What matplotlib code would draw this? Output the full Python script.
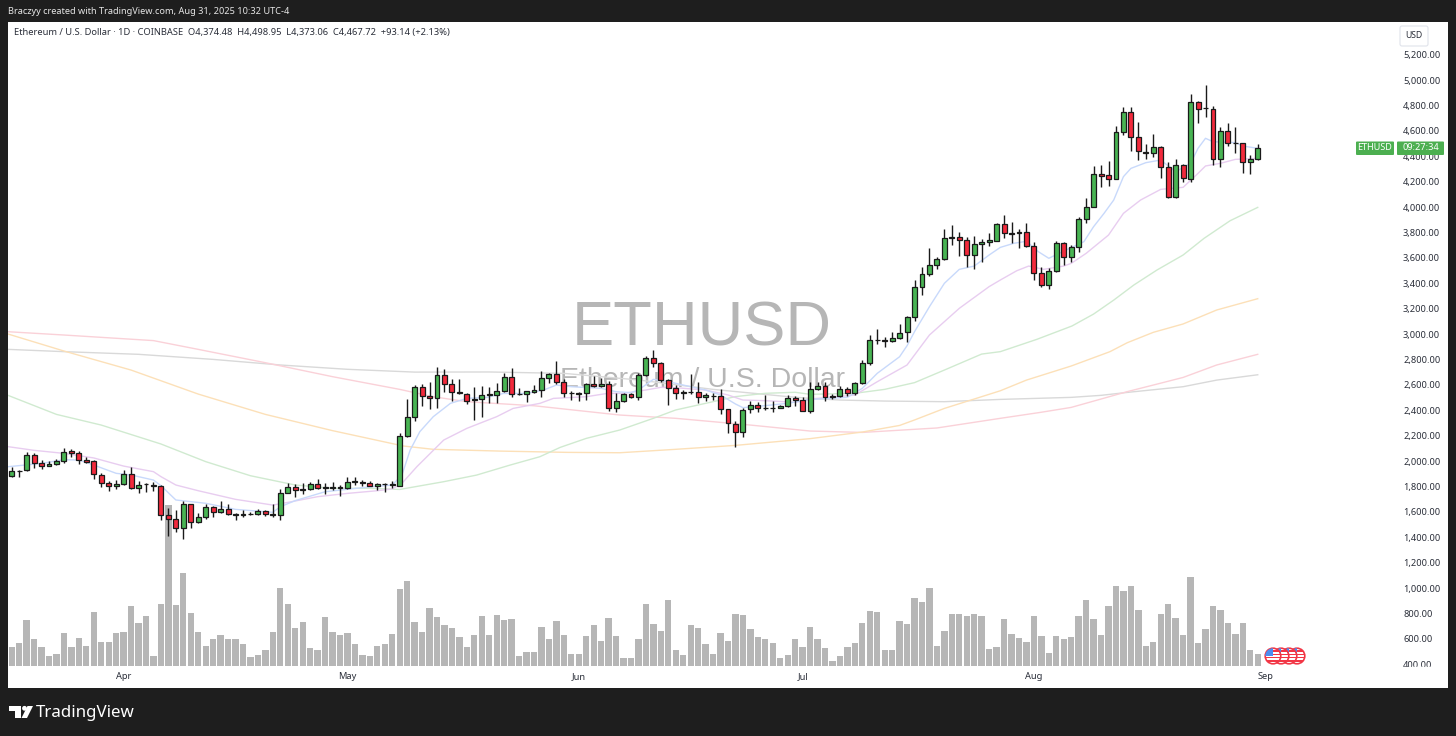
import numpy as np
import matplotlib
matplotlib.use("Agg")
import matplotlib.pyplot as plt
from matplotlib.patches import Rectangle, Circle, Polygon, FancyBboxPatch
from matplotlib.transforms import IdentityTransform

W, H = 1456, 736
plt.rcParams['font.family'] = ['Noto Sans', 'DejaVu Sans']

# daily candles, 17 Mar 2025 to 31 Aug 2025
opens = [1879, 1921, 1926, 2047, 1981, 1960, 1973, 1997, 2076, 2060, 2005, 1997, 1892, 1824, 1800, 1816, 1897, 1784, 1816, 1813,
         1800, 1572, 1546, 1469, 1658, 1517, 1561, 1635, 1595, 1619, 1580, 1572, 1580, 1580, 1603, 1582, 1572, 1750, 1792, 1769,
         1779, 1816, 1792, 1790, 1795, 1784, 1834, 1837, 1829, 1805, 1819, 1811, 1805, 2199, 2344, 2580, 2512, 2494, 2675, 2604,
         2543, 2530, 2478, 2491, 2523, 2517, 2549, 2659, 2525, 2525, 2543, 2562, 2656, 2683, 2625, 2533, 2525, 2538, 2604, 2593,
         2604, 2415, 2473, 2525, 2507, 2675, 2811, 2769, 2635, 2572, 2533, 2544, 2541, 2507, 2515, 2515, 2407, 2291, 2226, 2407,
         2441, 2420, 2415, 2417, 2431, 2499, 2477, 2396, 2569, 2588, 2509, 2509, 2564, 2533, 2611, 2769, 2950, 2955, 2942, 2966,
         3013, 3136, 3367, 3472, 3540, 3593, 3758, 3761, 3743, 3625, 3706, 3722, 3735, 3866, 3795, 3792, 3806, 3690, 3478, 3383,
         3493, 3716, 3603, 3682, 3903, 4003, 4260, 4249, 4223, 4588, 4745, 4548, 4436, 4423, 4472, 4312, 4076, 4328, 4223, 4829,
         4782, 4772, 4375, 4596, 4507, 4504, 4354, 4374.48]
highs = [1950, 1929, 2068, 2060, 2008, 1997, 2018, 2099, 2091, 2078, 2029, 2005, 1902, 1842, 1850, 1926, 1952, 1840, 1829, 1832,
         1808, 1632, 1614, 1685, 1664, 1588, 1661, 1645, 1687, 1658, 1593, 1611, 1595, 1624, 1614, 1658, 1777, 1829, 1819, 1824,
         1837, 1858, 1824, 1834, 1813, 1871, 1871, 1850, 1845, 1829, 1824, 1842, 2217, 2488, 2598, 2606, 2620, 2738, 2722, 2643,
         2643, 2533, 2586, 2591, 2586, 2612, 2690, 2730, 2572, 2551, 2599, 2711, 2696, 2788, 2643, 2551, 2546, 2612, 2669, 2651,
         2633, 2533, 2533, 2533, 2690, 2827, 2874, 2782, 2643, 2599, 2559, 2683, 2620, 2533, 2538, 2565, 2412, 2315, 2415, 2473,
         2467, 2520, 2473, 2441, 2520, 2512, 2506, 2619, 2624, 2624, 2525, 2590, 2585, 2622, 2792, 2992, 3036, 2979, 3018, 3078,
         3144, 3425, 3525, 3674, 3609, 3824, 3858, 3800, 3761, 3774, 3748, 3792, 3877, 3937, 3879, 3827, 3871, 3722, 3530, 3522,
         3735, 3722, 3701, 3924, 4068, 4323, 4331, 4362, 4638, 4785, 4785, 4667, 4493, 4575, 4480, 4357, 4375, 4339, 4887, 4835,
         4958, 4795, 4627, 4659, 4630, 4507, 4409, 4498.95]
lows = [1876, 1871, 1924, 1947, 1934, 1960, 1971, 1981, 2034, 1979, 1987, 1860, 1798, 1766, 1777, 1811, 1779, 1745, 1758, 1766,
        1535, 1409, 1443, 1385, 1469, 1509, 1540, 1561, 1593, 1574, 1535, 1556, 1572, 1574, 1564, 1559, 1535, 1745, 1719, 1740,
        1771, 1779, 1740, 1771, 1727, 1782, 1808, 1805, 1803, 1774, 1753, 1784, 1803, 2186, 2315, 2433, 2410, 2415, 2546, 2473,
        2528, 2446, 2323, 2349, 2454, 2454, 2541, 2501, 2520, 2467, 2533, 2507, 2612, 2606, 2507, 2478, 2470, 2480, 2585, 2585,
        2391, 2389, 2462, 2494, 2480, 2669, 2743, 2625, 2441, 2488, 2491, 2528, 2454, 2475, 2480, 2370, 2218, 2113, 2192, 2381,
        2389, 2402, 2383, 2415, 2425, 2436, 2391, 2375, 2559, 2475, 2491, 2501, 2512, 2519, 2603, 2756, 2918, 2900, 2939, 2960,
        2934, 3105, 3307, 3456, 3509, 3583, 3701, 3617, 3530, 3509, 3569, 3693, 3730, 3753, 3714, 3680, 3682, 3425, 3367, 3351,
        3488, 3543, 3564, 3648, 3877, 4000, 4160, 4165, 4220, 4567, 4444, 4370, 4378, 4396, 4226, 4071, 4068, 4199, 4199, 4659,
        4711, 4331, 4315, 4483, 4428, 4270, 4257, 4373.06]
closes = [1924, 1924, 2047, 1981, 1960, 1973, 1997, 2073, 2060, 2005, 1994, 1895, 1824, 1800, 1816, 1897, 1784, 1808, 1821, 1800,
          1572, 1546, 1469, 1658, 1517, 1561, 1635, 1595, 1619, 1580, 1574, 1580, 1585, 1603, 1580, 1574, 1748, 1792, 1769, 1779,
          1816, 1784, 1784, 1795, 1790, 1837, 1840, 1829, 1805, 1819, 1816, 1819, 2199, 2344, 2580, 2512, 2494, 2675, 2606, 2543,
          2533, 2475, 2491, 2523, 2528, 2549, 2659, 2525, 2528, 2549, 2562, 2656, 2683, 2625, 2533, 2538, 2538, 2604, 2593, 2604,
          2415, 2473, 2525, 2507, 2675, 2811, 2769, 2638, 2575, 2533, 2546, 2541, 2507, 2517, 2512, 2407, 2297, 2226, 2404, 2438,
          2417, 2417, 2420, 2431, 2499, 2480, 2396, 2564, 2588, 2506, 2504, 2567, 2538, 2611, 2769, 2950, 2955, 2942, 2966, 3010,
          3136, 3367, 3472, 3540, 3593, 3753, 3761, 3743, 3625, 3706, 3724, 3737, 3869, 3798, 3790, 3806, 3693, 3480, 3383, 3493,
          3716, 3603, 3682, 3903, 4003, 4260, 4247, 4223, 4588, 4745, 4548, 4438, 4423, 4472, 4312, 4076, 4328, 4226, 4829, 4772,
          4777, 4375, 4598, 4507, 4501, 4354, 4375, 4467.72]
volumes = [56, 70, 137, 82, 58, 30, 35, 99, 56, 84, 60, 161, 72, 71, 99, 101, 180, 129, 151, 30,
           187, 483, 183, 278, 159, 101, 60, 80, 92, 80, 82, 66, 27, 34, 47, 101, 233, 187, 113, 132,
           54, 48, 147, 101, 93, 99, 66, 33, 30, 60, 66, 96, 230, 256, 132, 101, 173, 147, 123, 113,
           87, 56, 93, 151, 92, 153, 137, 141, 30, 42, 42, 116, 82, 135, 92, 37, 37, 90, 123, 75,
           144, 90, 25, 25, 80, 187, 126, 106, 197, 49, 34, 123, 113, 66, 37, 99, 75, 156, 153, 111,
           87, 80, 68, 23, 34, 80, 56, 116, 80, 54, 15, 30, 56, 70, 130, 165, 161, 47, 49, 135,
           126, 204, 192, 233, 59, 104, 156, 156, 149, 156, 151, 51, 56, 140, 96, 84, 72, 149, 90, 39,
           90, 80, 87, 151, 199, 140, 94, 180, 240, 225, 240, 168, 59, 72, 156, 187, 144, 94, 266, 68,
           111, 180, 168, 128, 96, 130, 47, 37]

# moving average overlays at a few candles
blue_x = [0.5, 5, 8, 10, 12, 15, 17, 20, 21, 23, 27, 31, 36, 37, 39, 43, 48, 52, 53.3, 54.4, 55.7, 57.5, 59.8, 62, 64.7, 66.9, 70, 72.3, 74,
          76, 80, 82, 84, 85, 87, 89, 91, 94, 96, 98, 99, 102, 105, 108, 113, 115, 117, 120, 121, 122, 124, 126, 128, 130, 132,
          133.5, 135.3, 137, 138.6, 140, 140.9, 143, 144.7, 146, 147.4, 148.7, 150, 151, 153, 155, 157, 159, 160, 161, 162, 165, 166, 168]
blue_y = [1955, 1981, 2010, 2008, 1968, 1903, 1890, 1850, 1806, 1693, 1667, 1619, 1596, 1640, 1688, 1758, 1790, 1811, 1889, 2086, 2231,
          2349, 2454, 2493, 2501, 2532, 2532, 2559, 2598, 2585, 2572, 2546, 2538, 2559, 2643, 2625, 2598, 2559, 2520,
          2449, 2420, 2436, 2454, 2485, 2501, 2572, 2690, 2821, 2908, 3018, 3215, 3399, 3509, 3535, 3622,
          3682, 3714, 3730, 3648, 3596, 3622, 3680, 3727, 3845, 3950, 4055, 4239, 4304, 4349, 4370, 4278, 4344, 4462, 4541, 4514, 4507, 4480, 4462]
purple_x = [0.5, 4, 8, 12, 16, 20, 21, 23, 26, 31, 36, 38, 42, 46, 50, 52, 53.3, 55.3, 57.1, 58.9, 62, 66, 68.2, 71.8, 73.6, 78, 80.8, 83, 86, 88, 90,
            94, 97, 99, 102, 106, 108, 114, 117, 121, 124, 128, 132, 133.5, 135.7, 137.3, 139.3, 142, 143, 145, 148, 150, 152.3, 155, 158, 160, 161, 163, 165, 168]
purple_y = [2113, 2084, 2060, 2024, 1960, 1916, 1877, 1811, 1766, 1698, 1653, 1674, 1719, 1745, 1766, 1780, 1824, 1955, 2060, 2165, 2257, 2349, 2414, 2454, 2493, 2506, 2532, 2533, 2559, 2580, 2577,
            2559, 2520, 2480, 2475, 2462, 2488, 2519, 2624, 2756, 2992, 3202, 3373, 3425, 3498, 3535, 3509, 3535, 3556, 3635, 3779, 3950, 4055, 4139, 4155, 4265, 4323, 4344, 4375, 4383]
green_x = [0.5, 7, 13, 21, 27, 33, 39, 44, 49, 53, 58.9, 63.3, 67.8, 71.8, 74.5, 78, 82.5, 87, 90, 94, 98, 102, 106, 108, 114, 118, 122, 126, 131,
           133.5, 138.4, 143.1, 146, 148.7, 151.4, 154.5, 158, 160.8, 164.3, 168]
green_y = [2517, 2367, 2283, 2134, 1995, 1884, 1811, 1785, 1785, 1776, 1837, 1889, 1968, 2034, 2107, 2178, 2244, 2336, 2402, 2454, 2507,
           2533, 2541, 2525, 2533, 2564, 2617, 2716, 2842, 2861, 2958, 3063, 3157, 3267, 3386, 3504, 3622, 3753, 3892, 3997]
orange_x = [0.5, 8, 17, 26, 35, 44, 53.5, 57.5, 66.5, 75.4, 82.5, 90, 98, 108, 115, 120, 122, 126, 130, 133.5, 137, 143, 148.2, 150.5, 154, 158, 162.5, 168]
orange_y = [3000, 2866, 2716, 2527, 2367, 2239, 2118, 2092, 2078, 2068, 2065, 2092, 2123, 2176, 2228, 2280, 2323, 2414, 2488, 2553,
            2637, 2748, 2861, 2931, 3013, 3079, 3189, 3278]
pink_x = [0.5, 8, 20, 26, 35, 44, 53, 57.5, 62, 71, 82.5, 90, 100, 108, 115, 125, 133.5, 138.9, 143, 147, 150.5, 154, 158, 162.5, 168]
pink_y = [3018, 2992, 2948, 2879, 2774, 2664, 2564, 2506, 2467, 2435, 2362, 2336, 2283, 2236, 2225, 2260, 2336, 2383, 2422, 2488,
          2546, 2598, 2658, 2756, 2840]
gray_x = [0.5, 8, 18, 28, 37, 46, 55, 65, 75, 85, 95, 105, 108, 112, 118, 126, 133.5, 143, 147, 150.5, 158, 162.5, 168]
gray_y = [2879, 2861, 2840, 2800, 2756, 2722, 2700, 2701, 2690, 2638, 2564, 2507, 2493, 2480, 2472, 2467, 2485, 2501, 2517, 2540, 2585, 2637, 2679]

price_ticks = list(range(400, 5400, 200))
month_pos = [16, 46, 77, 107, 138, 169]
month_labels = ["Apr", "May", "Jun", "Jul", "Aug", "Sep"]


def px(x, y):
    return x / W, 1 - y / H


x = np.arange(1, len(closes) + 1)
o = np.array(opens)
c = np.array(closes)

fig = plt.figure(figsize=(W / 100, H / 100), dpi=100, facecolor="#1e1e1e")
box = [8 / W, (H - 688) / H, 1440 / W, 666 / H]
xlim = (0.504, 193.5)

# volume sits in its own axes under the price axes
axv = fig.add_axes(box, zorder=0, facecolor="white")
axv.bar(x, volumes, width=0.85, color="#b6b6b6", edgecolor="none")
axv.set_xlim(*xlim)
axv.set_ylim(-66, 1932)
axv.axis("off")
axv.add_patch(Rectangle((0, 0), 1, 1, transform=axv.transAxes, color="white", zorder=-5))

ax = fig.add_axes(box, zorder=2)
ax.patch.set_visible(False)
ax.set_xlim(*xlim)
ax.set_ylim(212.6, 5456.7)
for s in ax.spines.values():
    s.set_visible(False)

# watermark goes between the two axes
fig.text(*px(702, 329), "ETHUSD", fontsize=45.5, color="#b6b6b6", ha="center", va="center",
         family="Liberation Sans", zorder=1)
fig.text(*px(702, 380), "Ethereum / U.S. Dollar", fontsize=20.5, color="#b6b6b6", ha="center", va="center",
         family="Liberation Sans", zorder=1)

ax.plot(gray_x, gray_y, color="#d9d9d9", lw=1, zorder=1)
ax.plot(pink_x, pink_y, color="#fad1d8", lw=1, zorder=1)
ax.plot(orange_x, orange_y, color="#fce0b8", lw=1, zorder=1)
ax.plot(green_x, green_y, color="#d0ead0", lw=1, zorder=1)
ax.plot(purple_x, purple_y, color="#e8cdf0", lw=1, zorder=1)
ax.plot(blue_x, blue_y, color="#c8d9fb", lw=1, zorder=1)

colors = ["#48b453" if b >= a else "#f22a3c" for a, b in zip(opens, closes)]
ax.vlines(x, lows, highs, color="#1a1a1a", lw=1, zorder=2)
ax.bar(x, np.abs(c - o), bottom=np.minimum(o, c), width=0.66, color=colors,
       edgecolor="#1a1a1a", linewidth=0.9, zorder=3)

ax.yaxis.tick_right()
ax.set_yticks(price_ticks)
ax.set_yticklabels([f"{p:,.2f}" for p in price_ticks], fontsize=6.7, color="#2a2e39")
ax.tick_params(axis="y", length=0, pad=-32.4)
ax.set_xticks(month_pos)
ax.set_xticklabels(month_labels, fontsize=6.7, color="#2a2e39")
ax.tick_params(axis="x", length=0, pad=-11.5)

# header and footer text
fig.text(*px(8, 11), "Braczyy created with TradingView.com, Aug 31, 2025 10:32 UTC-4",
         color="#e6e6e6", fontsize=6.6, va="center")
fig.text(*px(14, 33), "Ethereum / U.S. Dollar · 1D · COINBASE  O4,374.48  H4,498.95  L4,373.06  C4,467.72  +93.14 (+2.13%)",
         color="#2a2e39", fontsize=6.72, va="center")
fig.text(*px(36, 713), "TradingView", color="white", fontsize=12.2, va="center", weight="medium")

# price axis decorations
fig.add_artist(Rectangle(px(1390, 672), 55 / W, 5 / H, transform=fig.transFigure, color="white", zorder=5))
fig.add_artist(FancyBboxPatch((1400, H - 46), 28, 20, boxstyle="round,pad=0,rounding_size=2",
                              transform=IdentityTransform(), fc="white", ec="#e0e3eb", lw=0.8, zorder=5))
fig.text(*px(1414, 35), "USD", color="#2a2e39", fontsize=6.2, ha="center", va="center", zorder=6)
fig.add_artist(FancyBboxPatch((1356, H - 155), 38, 13.5, boxstyle="round,pad=0,rounding_size=1",
                              transform=IdentityTransform(), fc="#4caf50", ec="none", zorder=5))
fig.add_artist(FancyBboxPatch((1397, H - 155), 47, 13.5, boxstyle="round,pad=0,rounding_size=1",
                              transform=IdentityTransform(), fc="#4caf50", ec="none", zorder=5))
fig.text(*px(1375, 148), "ETHUSD", color="white", fontsize=6.5, ha="center", va="center", weight="semibold", zorder=6)
fig.text(*px(1420.5, 148), "09:27:34", color="white", fontsize=6.6, ha="center", va="center", zorder=6)

# logo
logo = "#ffffff"
fig.add_artist(Polygon([(9, H - 706), (21, H - 706), (21, H - 718), (15, H - 718), (15, H - 711), (9, H - 711)],
                       transform=IdentityTransform(), fc=logo, ec="none"))
fig.add_artist(Circle((24.5, H - 708.3), 2.4, transform=IdentityTransform(), fc=logo, ec="none"))
fig.add_artist(Polygon([(27.5, H - 706), (33, H - 706), (27, H - 718), (21.5, H - 718)],
                       transform=IdentityTransform(), fc=logo, ec="none"))

# economic event flags
for i, cx in enumerate([1297, 1289, 1281, 1273]):
    z = 5 + i
    disc = Circle((cx, H - 656), 7.8, transform=IdentityTransform(), fc="white", ec="#f23645", lw=1.2, zorder=z)
    fig.add_artist(disc)
    for k, dy in enumerate([-5, -1.7, 1.7, 5]):
        st = Rectangle((cx - 8, H - 656 + dy - 0.7), 16, 1.4, transform=IdentityTransform(),
                       fc="#f23645", ec="none", zorder=z)
        fig.add_artist(st)
        st.set_clip_path(disc)
    cant = Rectangle((cx - 8, H - 656), 8, 8, transform=IdentityTransform(), fc="#4c8df0", ec="none", zorder=z)
    fig.add_artist(cant)
    cant.set_clip_path(disc)

fig.savefig("out.png", dpi=100, facecolor=fig.get_facecolor())
